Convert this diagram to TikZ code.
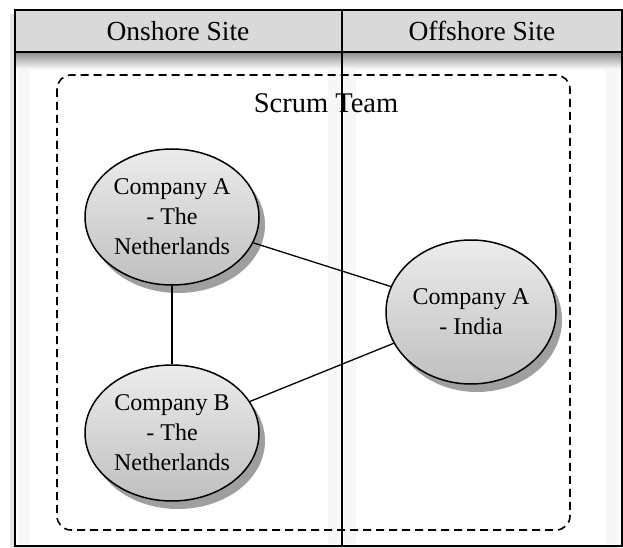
\documentclass[tikz,border=0pt]{standalone}
\usepackage{fontspec}
\setmainfont{Liberation Serif}
\usetikzlibrary{shadows,shapes.geometric}
\begin{document}
\begin{tikzpicture}[x=1pt,y=-1pt,
  org/.style={ellipse, draw=black, line width=1.5pt, minimum width=174pt, minimum height=136pt,
    inner sep=0pt, top color=gray!15, bottom color=gray!50, align=center, font=\fontsize{24}{30}\selectfont,
    drop shadow={shadow xshift=6pt, shadow yshift=-8pt, opacity=0.5, fill=black!75}},
  link/.style={line width=1.3pt},
  frame/.style={line width=1.8pt},
  head/.style={font=\fontsize{27.5}{32}\selectfont}]
\useasboundingbox (0,0) rectangle (623,548);
% soft outer shadow
\fill[black!10] (10,14) rectangle (622,548);
\fill[white] (15,10) rectangle (622,546);
% column shadows
\shade[top color=black!45, bottom color=white] (15,52) rectangle (622,70);
\fill[gray!6] (18,70) rectangle (30,544);
\fill[gray!6] (344,70) rectangle (356,544);
\fill[gray!6] (328,70) rectangle (340,544);
\fill[gray!6] (606,70) rectangle (620,544);
% header
\fill[gray!30] (15,10) rectangle (622,52);
\draw[frame] (15,10) rectangle (622,546);
\draw[frame] (15,52) -- (622,52);
\coordinate (dtop) at (342,10);
\coordinate (dbot) at (342,546);
\draw[frame] (dtop) -- (dbot);
\node[head] (on) at (178,31) {Onshore Site};
\node[head] (off) at (482,31) {Offshore Site};
% scrum team
\draw[line width=1.6pt, rounded corners=14pt, dash pattern=on 8pt off 5pt] (57,75) rectangle (570,530);
\node[font=\fontsize{28.5}{33}\selectfont] (st) at (326,103) {Scrum Team};
% nodes
\node[org] (anl) at (172,217) {Company A\\- The\\Netherlands};
\node[org] (bnl) at (172,433) {Company B\\- The\\Netherlands};
\node[org, minimum width=170pt, minimum height=144pt] (ain) at (471,312) {Company A\\- India};
\draw[link] (anl) -- (bnl);
\draw[link] (anl) -- (ain);
\draw[link] (bnl) -- (ain);
\end{tikzpicture}
\end{document}
